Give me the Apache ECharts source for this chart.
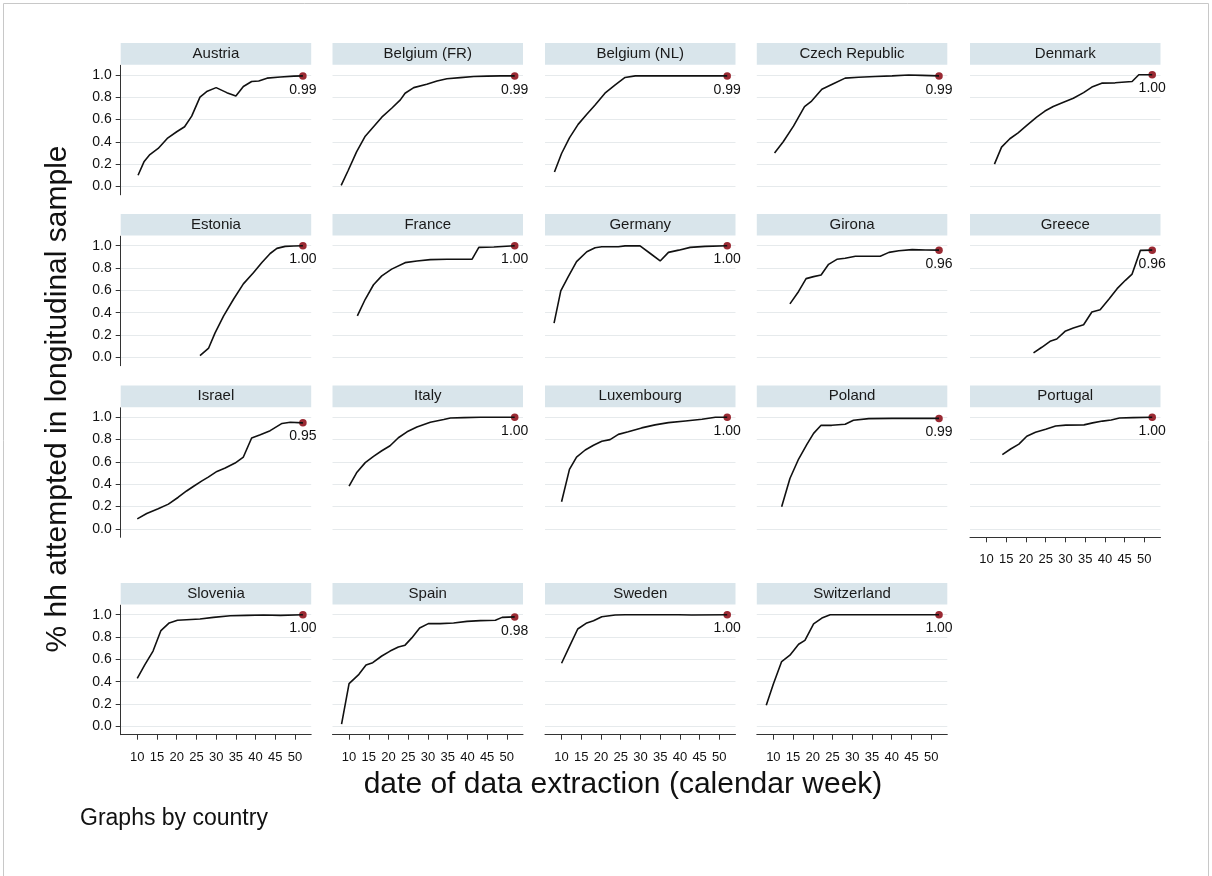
<!DOCTYPE html>
<html><head><meta charset="utf-8">
<script src="https://cdn.jsdelivr.net/npm/echarts@6/dist/echarts.min.js"></script>
<style>html,body{margin:0;padding:0;background:#fff}#c{width:1212px;height:876px}</style>
</head><body><div id="c"></div><script>
// ---- data: [calendar week, share of hh attempted] ----
const austria = [[10.2,0.10],[11.7,0.22],[13.2,0.285],[15.3,0.34],[17.6,0.43],[20,0.49],[22,0.535],[23.8,0.63],[25.9,0.80],[27.6,0.85],[30,0.885],[32.7,0.84],[35,0.81],[36.9,0.895],[39,0.94],[40.8,0.945],[42.9,0.97],[46.3,0.98],[49.7,0.988],[52,0.99]];
const belgiumFR = [[8,0.01],[9.8,0.145],[11.9,0.31],[14.1,0.45],[16.2,0.535],[18.3,0.62],[20.8,0.70],[23,0.775],[24.2,0.835],[26.4,0.885],[29.7,0.915],[32.3,0.945],[34.8,0.965],[38.2,0.975],[41.6,0.985],[45,0.988],[48.4,0.99],[52,0.99]];
const belgiumNL = [[8.2,0.13],[10,0.295],[12,0.435],[14.2,0.556],[16.4,0.646],[18.5,0.73],[21,0.835],[23.6,0.91],[26.1,0.976],[28.7,0.99],[35,0.99],[40,0.99],[45,0.99],[52,0.99]];
const czech = [[10.3,0.30],[12.5,0.40],[15.1,0.54],[17.9,0.715],[19.7,0.765],[22.3,0.87],[25.2,0.92],[28.2,0.97],[31.6,0.978],[35.8,0.985],[40.1,0.99],[44.3,0.998],[47.7,0.995],[52,0.99]];
const denmark = [[12,0.20],[13.8,0.352],[15.9,0.427],[18,0.48],[20.2,0.546],[22.7,0.62],[24.8,0.675],[26.9,0.716],[29.5,0.755],[32,0.79],[34.6,0.84],[36.7,0.89],[39.2,0.925],[42.6,0.928],[46.9,0.94],[48.6,1.0],[52,1.0]];
const estonia = [[25.9,0.015],[28.1,0.083],[29.7,0.217],[31.9,0.372],[34.4,0.52],[36.9,0.658],[39.5,0.76],[41.6,0.85],[43.7,0.93],[45.4,0.976],[47.5,0.994],[49.7,0.997],[52,1.0]];
const france = [[12.1,0.372],[14.1,0.52],[16.2,0.65],[18.3,0.73],[20.8,0.79],[24.2,0.848],[27.2,0.863],[30.6,0.875],[34.8,0.878],[41.2,0.88],[42.9,0.985],[46.7,0.988],[52,1.0]];
const germany = [[8.1,0.306],[9.8,0.595],[11.7,0.723],[13.8,0.857],[16.4,0.946],[18.5,0.982],[20.2,0.99],[24.4,0.99],[26.1,0.998],[29.9,0.998],[32.5,0.93],[35,0.863],[37.1,0.94],[39.7,0.96],[42.6,0.985],[46.4,0.994],[52,1.0]];
const girona = [[14.2,0.479],[16.4,0.59],[18.3,0.705],[20.2,0.723],[22.1,0.738],[24,0.833],[26.1,0.878],[28.2,0.887],[30.8,0.905],[37.1,0.905],[39.3,0.94],[41.8,0.955],[45.2,0.965],[48.6,0.961],[52,0.96]];
const greece = [[21.9,0.04],[24,0.09],[26.1,0.143],[27.8,0.164],[29.9,0.233],[32,0.263],[34.6,0.292],[36.7,0.406],[38.8,0.427],[41,0.52],[43.1,0.615],[45.2,0.69],[46.9,0.746],[49,0.958],[52,0.96]];
const israel = [[10,0.09],[12.4,0.138],[15.3,0.18],[17.9,0.222],[20.4,0.284],[22.5,0.34],[24.2,0.38],[26.4,0.43],[28,0.464],[30.2,0.515],[32.3,0.545],[34.8,0.59],[36.9,0.644],[39,0.814],[41.2,0.844],[43.7,0.88],[46.7,0.945],[48.8,0.955],[52,0.95]];
const italy = [[10,0.383],[11.9,0.503],[14.1,0.594],[16.2,0.65],[18.3,0.70],[20.4,0.745],[22.5,0.817],[24.7,0.87],[27.2,0.913],[30.6,0.955],[34,0.98],[35.7,0.994],[39.1,0.997],[43.3,1.0],[52,1.0]];
const luxembourg = [[10,0.243],[12,0.533],[13.8,0.644],[16,0.707],[18.1,0.75],[20.2,0.786],[22.3,0.80],[24.4,0.847],[26.9,0.87],[30.3,0.905],[33.7,0.932],[37.1,0.952],[41.4,0.967],[45.6,0.982],[49,1.0],[52,1.0]];
const poland = [[12.1,0.198],[14.2,0.452],[16.4,0.626],[18.5,0.757],[20.2,0.856],[22.1,0.928],[24.8,0.928],[28.2,0.937],[30.3,0.973],[34.2,0.988],[40.1,0.99],[52,0.99]];
const portugal = [[14,0.666],[16.1,0.716],[18.2,0.76],[20.2,0.83],[22.4,0.866],[25,0.893],[27.5,0.922],[30.1,0.93],[34.7,0.932],[36.9,0.95],[39.4,0.966],[41.6,0.976],[43.7,0.994],[47.1,0.997],[52,1.0]];
const slovenia = [[10,0.43],[11.9,0.55],[14,0.674],[16,0.858],[18.1,0.926],[20.2,0.95],[22.5,0.955],[25.9,0.961],[29.3,0.976],[33.6,0.99],[37.8,0.994],[42,0.997],[46.3,0.994],[52,1.0]];
const spain = [[8.1,0.02],[10,0.383],[12.5,0.466],[14.3,0.55],[16,0.57],[18.3,0.63],[20.4,0.674],[22.5,0.71],[24.2,0.727],[25.9,0.792],[27.9,0.88],[30.1,0.92],[33.1,0.92],[36.5,0.926],[39.9,0.94],[43.3,0.947],[47.1,0.95],[48.8,0.976],[52,0.98]];
const sweden = [[10,0.565],[12.1,0.723],[14.1,0.872],[16.4,0.926],[18.1,0.946],[20.2,0.982],[23.6,0.997],[26.1,1.0],[39.7,1.0],[43,0.997],[52,1.0]];
const switzerland = [[8.2,0.188],[10,0.38],[12.1,0.58],[14.2,0.637],[16.4,0.735],[18,0.77],[20.2,0.917],[22.3,0.97],[24.4,1.0],[52,1.0]];

const countries = ['Austria','Belgium (FR)','Belgium (NL)','Czech Republic','Denmark','Estonia','France','Germany','Girona','Greece','Israel','Italy','Luxembourg','Poland','Portugal','Slovenia','Spain','Sweden','Switzerland'];
const seriesData = [austria,belgiumFR,belgiumNL,czech,denmark,estonia,france,germany,girona,greece,israel,italy,luxembourg,poland,portugal,slovenia,spain,sweden,switzerland];
const xTicks = [10,15,20,25,30,35,40,45,50];
const yTicks = [0,0.2,0.4,0.6,0.8,1.0];

// ---- layout ----
const FONT = '"Liberation Sans", Arial, Helvetica, sans-serif';
const panelLeft = [120.7, 332.5, 545, 756.8, 970];
const panelTop = [65.3, 236.2, 407.8, 605.2];
const panelW = 190.5, panelH = 129.5, stripH = 21.7;
const xMin = 5.8, xMax = 54.1, yMin = -0.075, yMax = 1.085;

const grid = [], xAxis = [], yAxis = [], series = [];
const graphic = [
  {type:'rect', shape:{x:3.5,y:3.5,width:1205,height:900}, style:{fill:'none',stroke:'#c8c8c8',lineWidth:1}, silent:true}
];
countries.forEach((name, i) => {
  const row = Math.floor(i/5), col = i%5;
  const showX = row === 3 || i === 14;
  const showY = col === 0;
  grid.push({left: panelLeft[col], top: panelTop[row], width: panelW, height: panelH, containLabel:false});
  xAxis.push({type:'value', gridIndex:i, min:xMin, max:xMax,
    axisLine:{show:showX, onZero:false, lineStyle:{color:'#333', width:1}},
    axisTick:{show:showX, customValues:xTicks, length:5, lineStyle:{color:'#333'}},
    axisLabel:{show:showX, customValues:xTicks, fontSize:13, color:'#111', margin:16, fontFamily:FONT},
    splitLine:{show:false}});
  yAxis.push({type:'value', gridIndex:i, min:yMin, max:yMax,
    axisLine:{show:showY, onZero:false, lineStyle:{color:'#333', width:1}},
    axisTick:{show:showY, customValues:yTicks, length:5, lineStyle:{color:'#333'}},
    axisLabel:{show:showY, customValues:yTicks, fontSize:14, color:'#111', margin:9, fontFamily:FONT, formatter:v=>v.toFixed(1)},
    splitLine:{show:true, lineStyle:{color:'#e6eaec', width:1}}});
  const d = seriesData[i];
  series.push({type:'line', xAxisIndex:i, yAxisIndex:i, data:d, showSymbol:false, symbol:'none', clip:false,
    lineStyle:{color:'#111', width:1.6}, silent:true});
  series.push({type:'scatter', xAxisIndex:i, yAxisIndex:i, data:[d[d.length-1]], symbolSize:7.5,
    itemStyle:{color:'#9a2a33', opacity:1}, silent:true,
    label:{show:true, position:'bottom', distance:3, fontSize:14, color:'#111', opacity:1, fontFamily:FONT,
      formatter:p=>p.value[1].toFixed(2)}});
  graphic.push({type:'rect', shape:{x:panelLeft[col], y:panelTop[row]-stripH-0.6, width:panelW, height:stripH},
    style:{fill:'#d9e5eb'}, silent:true});
  graphic.push({type:'text', x:panelLeft[col]+panelW/2, y:panelTop[row]-stripH/2-0.6,
    style:{text:name, align:'center', verticalAlign:'middle', font:'15px '+FONT, fill:'#1a1a1a'}, silent:true});
});
graphic.push({type:'text', x:58, y:399, rotation:Math.PI/2,
  style:{text:'% hh attempted in longitudinal sample', align:'center', verticalAlign:'middle', font:'30px '+FONT, fill:'#111'}, silent:true});
graphic.push({type:'text', x:623, y:785,
  style:{text:'date of data extraction (calendar week)', align:'center', verticalAlign:'middle', font:'30px '+FONT, fill:'#111'}, silent:true});
graphic.push({type:'text', x:80, y:819,
  style:{text:'Graphs by country', align:'left', verticalAlign:'middle', font:'23px '+FONT, fill:'#111'}, silent:true});

const chart = echarts.init(document.getElementById('c'), null, {renderer:'canvas'});
chart.setOption({animation:false, backgroundColor:'#fff', grid, xAxis, yAxis, series, graphic});
</script></body></html>
